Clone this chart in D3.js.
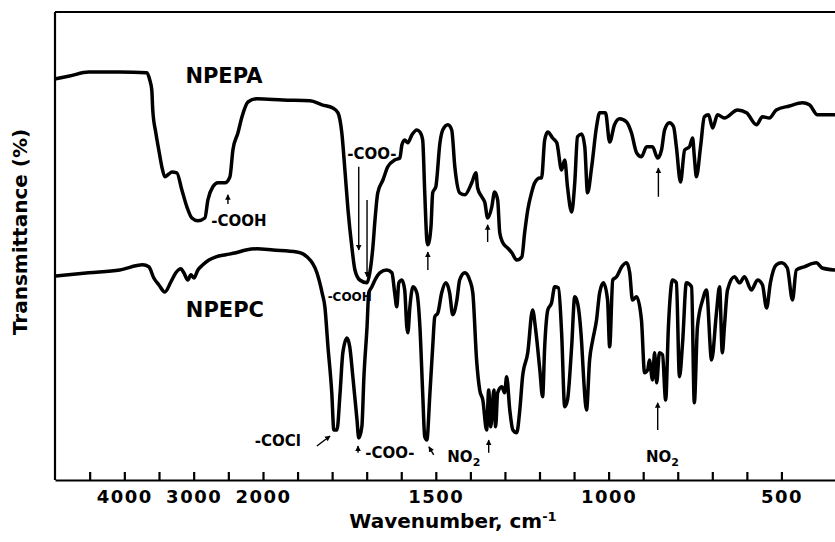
<!DOCTYPE html>
<html lang="en">
<head>
<meta charset="UTF-8">
<title>IR spectra of NPEPA and NPEPC</title>
<style>
    body {
        margin: 0;
        background: #ffffff;
    }
    svg { display: block; }
    text {
        font-family: "DejaVu Sans", sans-serif;
        fill: #000;
    }
    .trace {
        fill: none;
        stroke: #000;
        stroke-width: 3.5px;
        stroke-linejoin: round;
        stroke-linecap: round;
    }
    .frame {
        stroke: #000;
        stroke-width: 2.2px;
    }
    .axis path, .axis line {
        stroke: #000;
        stroke-width: 2.2px;
    }
    .axis text {
        font-size: 18px;
        font-weight: bold;
        letter-spacing: 1.5px;
    }
    .title {
        font-size: 20px;
        font-weight: bold;
    }
    .name {
        font-size: 21px;
        font-weight: bold;
    }
    .note {
        font-size: 15px;
        font-weight: bold;
    }
    .note.small { font-size: 12px; }
    .arrow {
        stroke: #000;
        stroke-width: 1.4px;
    }
</style>
</head>
<body>
<div id="chart"></div>

<script src="https://d3js.org/d3.v7.min.js"></script>
<script>
    const width = 835;
    const height = 542;

    // spectra: [wavenumber cm-1, transmittance (arb. %)]
    const npepa = [
        [4990,100.3],[4790,101],[4515,102],[4066,102],[3676,101.8],[3633,100],[3604,97.5],[3590,92.5],
        [3546,86.8],[3503,82.5],[3459,78.3],[3416,75.8],[3358,76.5],[3315,77],[3243,76.8],[3170,72.5],
        [3098,68.3],[3026,65.5],[2939,64.8],[2838,65.5],[2795,70],[2723,73.3],[2650,74.3],[2549,74.3],
        [2477,75.8],[2434,82.5],[2361,86.8],[2303,90.8],[2217,94.5],[2087,95.3],[1942,95],[1864,94.8],
        [1829,93.8],[1798,93],[1783,91.8],[1772,86.8],[1763,77.5],[1754,67.5],[1743,58.3],[1734,52.5],
        [1720,50],[1699,49.3],[1691,51.8],[1682,58.3],[1676,65],[1668,71.8],[1653,75],[1639,78.3],
        [1619,80],[1604,80.5],[1598,83.8],[1590,85],[1581,84.3],[1569,86.3],[1555,87.5],[1546,87],
        [1538,85],[1532,71.8],[1526,60],[1523,58.8],[1514,63.3],[1509,71.8],[1500,73.3],[1488,84.3],
        [1480,87.5],[1465,88.8],[1454,87.5],[1445,78.3],[1431,71.8],[1416,71.3],[1396,74.3],[1384,76.8],
        [1379,73],[1367,70.8],[1358,69.3],[1350,65.5],[1338,68.3],[1330,72],[1321,70],[1315,61.8],
        [1306,59.3],[1292,58],[1280,56.8],[1266,55],[1251,55.8],[1243,61.8],[1234,67.5],[1223,71.8],
        [1214,74.3],[1199,75.5],[1194,75.5],[1185,85],[1176,87],[1162,85.5],[1150,84.3],[1136,77.5],
        [1127,80],[1119,73.3],[1107,67],[1098,74.3],[1090,85.8],[1078,86.5],[1069,83.3],[1061,71.8],
        [1049,78.3],[1035,88.3],[1026,91.8],[1009,91.8],[997,84.5],[983,88.8],[968,90.3],[948,89.5],
        [934,86.8],[919,81.8],[905,80.8],[890,83.3],[873,83.3],[858,80.5],[847,82.5],[838,87.5],
        [824,89.3],[812,88.3],[804,83.3],[792,74.5],[780,82.5],[766,83.3],[757,85.5],[752,80.8],
        [746,75.8],[734,83.3],[723,90.8],[711,91.3],[699,88],[685,91.3],[665,90.5],[627,92.5],
        [601,91.8],[572,88.8],[555,90.8],[535,90.5],[515,92.5],[477,93.5],[439,94.3],[419,93.8],
        [396,91.3],[347,91.3]
    ];

    const npepc = [
        [4990,51],[4515,51.8],[4066,52.5],[3734,53.8],[3647,53.3],[3575,50.5],[3503,48.8],[3416,47],
        [3329,49.5],[3257,51.8],[3185,52.8],[3142,51.8],[3084,50],[3040,51.3],[2997,50.5],[2939,52.5],
        [2867,53.8],[2780,55],[2679,55.8],[2535,56.3],[2390,56.8],[2246,57.5],[2087,57.8],[1971,57.5],
        [1902,57],[1873,55.8],[1844,51.8],[1829,46.8],[1821,43.3],[1812,33.3],[1801,21.8],[1795,12.5],
        [1786,12.5],[1777,21.8],[1769,31.8],[1757,35.5],[1749,33.3],[1740,25.8],[1728,15],[1723,10.5],
        [1714,13.3],[1708,25.8],[1699,38.3],[1694,46.8],[1685,48.3],[1676,50],[1662,51.8],[1642,52.5],
        [1627,51.8],[1619,46.8],[1613,43.3],[1607,49.3],[1598,50],[1590,47.5],[1584,38.3],[1581,36.8],
        [1575,43.3],[1566,48.3],[1555,46.8],[1546,38.3],[1538,21.8],[1532,10.8],[1526,10],[1517,21.8],
        [1509,33.3],[1503,40.8],[1494,41.8],[1483,46.8],[1471,49.3],[1460,46.8],[1451,41.3],[1439,45],
        [1431,50],[1416,51.8],[1402,50],[1393,46.8],[1382,30],[1373,22.5],[1364,20],[1353,12.5],
        [1347,22.5],[1341,13.3],[1332,22.5],[1327,13.3],[1321,21.8],[1309,23.3],[1301,21.8],[1295,25.8],
        [1286,17.5],[1277,12.5],[1266,11.8],[1257,17.5],[1249,25.8],[1234,31.8],[1220,42.5],[1211,37.5],
        [1199,27.5],[1191,20.8],[1185,33.3],[1176,42.5],[1165,44.3],[1156,48.3],[1145,48],[1136,36.8],
        [1127,18.3],[1119,20],[1107,33.3],[1098,45.8],[1090,44.3],[1078,34.3],[1072,25],[1064,17.5],
        [1055,30],[1046,35],[1035,40],[1026,46.8],[1015,49.3],[1003,45],[997,33.3],[988,50],
        [977,50.8],[962,53.3],[948,54.3],[939,51.8],[931,45],[919,45.8],[905,40],[896,26.8],
        [887,27.5],[882,30],[873,25],[867,31.8],[861,24.3],[853,31.8],[844,31.3],[835,20],
        [827,38.3],[815,50],[804,49.3],[795,25.8],[786,34.3],[775,49.3],[760,48.3],[752,19.3],
        [743,38.3],[728,45],[717,47.5],[702,30],[688,41.8],[679,48.3],[671,31.8],[665,38.3],
        [656,47.5],[636,50.8],[621,49.3],[607,50.8],[587,47.5],[569,50],[555,48.8],[543,43],
        [532,49.3],[515,53.8],[500,54.3],[483,53],[468,45],[457,52.5],[434,53.3],[399,54.3],
        [382,53],[347,52.5]
    ];

    // axis: 500 cm-1 steps above 2000, 100 cm-1 steps below
    const tickValues = [4500, 4000, 3500, 3000, 2500, 2000, 1900, 1800, 1700, 1600, 1500,
                        1400, 1300, 1200, 1100, 1000, 900, 800, 700, 600, 500];
    const tickLabels = [4000, 3000, 2000, 1500, 1000, 500];

    // band labels: [text, wavenumber, transmittance, class]
    const labels = [
        ["NPEPA", 2564, 101, "name"],
        ["NPEPC", 2549, 42.5, "name"],
        ["-COOH", 2347, 64.8, "note"],
        ["-COO-", 1685, 81.5, "note"],
        ["-COOH", 1749, 45.8, "note small"],
        ["-COCl", 1957, 9.8, "note"],
        ["-COO-", 1633, 6.8, "note"],
        ["NO2", 1419, 5.8, "note"],
        ["NO2", 844, 5.8, "note"]
    ];

    // arrows: [from wn, from T, to wn, to T]
    const arrows = [
        [2506, 69, 2506, 71.3],
        [1723, 78.3, 1723, 57.5],
        [1699, 70, 1699, 50.8],
        [1523, 52.5, 1523, 57],
        [1350, 59.5, 1350, 63.8],
        [856, 70.8, 856, 78],
        [1844, 8.5, 1806, 11],
        [1725, 6.8, 1725, 8.5],
        [1506, 6.3, 1520, 8.3],
        [1347, 6.8, 1347, 10],
        [858, 12.5, 858, 19.3]
    ];

    const plotLeft = 55, plotRight = 835, plotTop = 12, plotBottom = 480;

    const x = d3.scaleLinear()
        .domain([5000, 2000, 345])
        .range([plotLeft, 263, plotRight]);

    const y = d3.scaleLinear()
        .domain([0, 100])
        .range([plotBottom, 80]);

    const svg = d3.select("#chart").append("svg")
        .attr("width", width)
        .attr("height", height);

    svg.append("defs").append("marker")
        .attr("id", "head")
        .attr("viewBox", "0 0 10 10")
        .attr("refX", 9).attr("refY", 5)
        .attr("markerWidth", 4).attr("markerHeight", 5)
        .attr("markerUnits", "strokeWidth")
        .attr("orient", "auto")
        .append("path")
        .attr("d", "M0,0 L10,5 L0,10 z")
        .attr("fill", "#000");

    // frame (left and top sides; right side is cut off in the figure)
    svg.append("line").attr("class", "frame")
        .attr("x1", plotLeft).attr("x2", plotLeft).attr("y1", plotTop).attr("y2", plotBottom);
    svg.append("line").attr("class", "frame")
        .attr("x1", plotLeft).attr("x2", plotRight).attr("y1", plotTop).attr("y2", plotTop);

    svg.append("g")
        .attr("class", "axis")
        .attr("transform", `translate(0,${plotBottom})`)
        .call(d3.axisBottom(x)
            .tickValues(tickValues)
            .tickSize(-8)
            .tickSizeOuter(0)
            .tickPadding(10)
            .tickFormat(d => tickLabels.includes(d) ? d : ""))
        .call(g => g.attr("font-family", null).attr("font-size", null));

    svg.append("text")
        .attr("class", "title")
        .attr("x", 453).attr("y", 528)
        .attr("text-anchor", "middle")
        .text("Wavenumber, cm")
        .append("tspan")
        .attr("dy", -7)
        .attr("font-size", "13px")
        .text("-1");

    svg.append("text")
        .attr("class", "title")
        .attr("transform", "translate(20,232) rotate(-90)")
        .attr("text-anchor", "middle")
        .attr("dy", "0.35em")
        .text("Transmittance (%)");

    const line = d3.line()
        .x(d => x(d[0]))
        .y(d => y(d[1]))
        .curve(d3.curveMonotoneX);

    svg.selectAll("path.trace")
        .data([npepa, npepc])
        .enter().append("path")
        .attr("class", "trace")
        .attr("d", line);

    svg.append("g").selectAll("line")
        .data(arrows)
        .enter().append("line")
        .attr("class", "arrow")
        .attr("x1", d => x(d[0])).attr("y1", d => y(d[1]))
        .attr("x2", d => x(d[2])).attr("y2", d => y(d[3]))
        .attr("marker-end", "url(#head)");

    const lab = svg.append("g").selectAll("text")
        .data(labels)
        .enter().append("text")
        .attr("class", d => d[3])
        .attr("x", d => x(d[1]))
        .attr("y", d => y(d[2]))
        .attr("dy", "0.35em")
        .attr("text-anchor", "middle");

    lab.each(function(d) {
        const t = d3.select(this);
        if (d[0] === "NO2") {
            t.append("tspan").text("NO");
            t.append("tspan").attr("dy", 4).attr("font-size", "11px").text("2");
        } else {
            t.text(d[0]);
        }
    });
</script>
</body>
</html>
